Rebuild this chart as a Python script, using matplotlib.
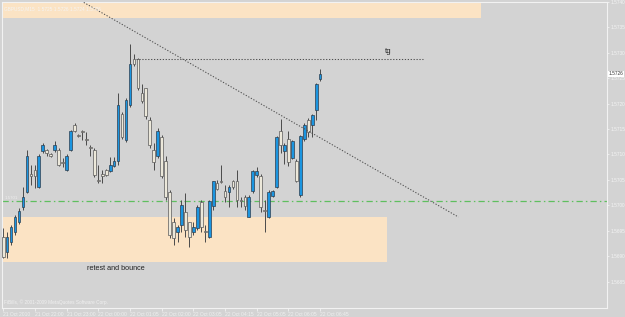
import matplotlib
matplotlib.use('Agg')
import matplotlib.pyplot as plt
from matplotlib.patches import Rectangle

# ---- OHLC data (M15 bars) ----
opens = [1.56937, 1.56908, 1.56928, 1.56947, 1.56967, 1.56996, 1.57026, 1.57061, 1.57069, 1.57037,
         1.57106, 1.57108, 1.57100, 1.57108, 1.57108, 1.57086, 1.57069, 1.57108, 1.57159, 1.57139,
         1.57147, 1.57131, 1.57114, 1.57108, 1.57049, 1.57061, 1.57069, 1.57067, 1.57077, 1.57088,
         1.57180, 1.57128, 1.57198, 1.57288, 1.57288, 1.57220, 1.57230, 1.57167, 1.57108, 1.57098,
         1.57135, 1.57088, 1.57026, 1.56967, 1.56947, 1.56961, 1.56986, 1.56967, 1.56947, 1.56955,
         1.57006, 1.56949, 1.56937, 1.56998, 1.57043, 1.57047, 1.57028, 1.57026, 1.57047, 1.57047,
         1.57010, 1.57016, 1.56977, 1.57028, 1.57059, 1.57057, 1.56990, 1.56977, 1.57018, 1.57037,
         1.57147, 1.57106, 1.57130, 1.57094, 1.57088, 1.57020, 1.57130, 1.57167, 1.57159, 1.57188,
         1.57249]
highs = [1.56955, 1.56947, 1.56961, 1.56981, 1.56994, 1.57037, 1.57108, 1.57079, 1.57079, 1.57100,
         1.57122, 1.57110, 1.57102, 1.57126, 1.57112, 1.57094, 1.57100, 1.57149, 1.57161, 1.57141,
         1.57149, 1.57145, 1.57118, 1.57112, 1.57079, 1.57069, 1.57071, 1.57096, 1.57096, 1.57220,
         1.57184, 1.57212, 1.57318, 1.57298, 1.57290, 1.57239, 1.57231, 1.57173, 1.57122, 1.57153,
         1.57139, 1.57098, 1.57030, 1.56975, 1.56961, 1.57010, 1.57024, 1.56967, 1.56967, 1.57000,
         1.57010, 1.56961, 1.57010, 1.57047, 1.57049, 1.57079, 1.57039, 1.57039, 1.57049, 1.57069,
         1.57016, 1.57020, 1.57020, 1.57069, 1.57075, 1.57061, 1.57010, 1.57030, 1.57031, 1.57137,
         1.57169, 1.57122, 1.57147, 1.57128, 1.57092, 1.57139, 1.57161, 1.57171, 1.57180, 1.57241,
         1.57269]
lows = [1.56896, 1.56896, 1.56922, 1.56941, 1.56963, 1.56990, 1.57024, 1.57039, 1.57035, 1.57035,
        1.57102, 1.57098, 1.57096, 1.57104, 1.57077, 1.57075, 1.57067, 1.57106, 1.57145, 1.57135,
        1.57128, 1.57118, 1.57098, 1.57055, 1.57043, 1.57043, 1.57057, 1.57065, 1.57075, 1.57079,
        1.57131, 1.57124, 1.57194, 1.57275, 1.57226, 1.57202, 1.57169, 1.57112, 1.57069, 1.57094,
        1.57053, 1.57010, 1.56935, 1.56922, 1.56928, 1.56947, 1.56937, 1.56918, 1.56941, 1.56951,
        1.56947, 1.56928, 1.56935, 1.56990, 1.57030, 1.57043, 1.57006, 1.56996, 1.57033, 1.56996,
        1.56996, 1.56990, 1.56977, 1.57024, 1.57055, 1.56986, 1.56947, 1.56975, 1.57016, 1.57035,
        1.57102, 1.57082, 1.57077, 1.57092, 1.57045, 1.57016, 1.57126, 1.57135, 1.57135, 1.57167,
        1.57245]
closes = [1.56898, 1.56937, 1.56957, 1.56977, 1.56988, 1.57016, 1.57098, 1.57057, 1.57057, 1.57098,
          1.57118, 1.57102, 1.57098, 1.57118, 1.57079, 1.57084, 1.57098, 1.57147, 1.57147, 1.57137,
          1.57145, 1.57128, 1.57112, 1.57059, 1.57047, 1.57057, 1.57059, 1.57079, 1.57088, 1.57198,
          1.57135, 1.57208, 1.57279, 1.57279, 1.57230, 1.57206, 1.57175, 1.57118, 1.57086, 1.57147,
          1.57057, 1.57016, 1.56941, 1.56935, 1.56957, 1.57000, 1.56951, 1.56937, 1.56957, 1.56996,
          1.56957, 1.56947, 1.57008, 1.57047, 1.57033, 1.57045, 1.57016, 1.57037, 1.57037, 1.57010,
          1.57008, 1.56998, 1.57016, 1.57067, 1.57067, 1.56996, 1.56988, 1.57026, 1.57028, 1.57135,
          1.57118, 1.57118, 1.57086, 1.57126, 1.57047, 1.57137, 1.57159, 1.57145, 1.57177, 1.57239,
          1.57259]

# ---- axis labels ----
ytick_vals = [1.5685, 1.5690, 1.5695, 1.5700, 1.5705, 1.5710, 1.5715, 1.5720, 1.5725,
              1.5730, 1.5735, 1.5740]
ytick_labels = ['1.5685', '1.5690', '1.5695', '1.5700', '1.5705', '1.5710', '1.5715',
                '1.5720', '1.5725', '1.5730', '1.5735', '1.5740']
xtick_bars = [0, 8, 16, 24, 32, 40, 48, 56, 64, 72, 80]
xtick_labels = ['21 Oct 2010', '21 Oct 22:00', '21 Oct 23:00', '22 Oct 00:00', '22 Oct 01:05',
                '22 Oct 02:00', '22 Oct 03:05', '22 Oct 04:15', '22 Oct 05:05', '22 Oct 06:05',
                '22 Oct 06:45']

# ---- drawn objects ----
zone_upper = (1.57369, 1.57420, 120.7)     # low, high, end bar
zone_lower = (1.56889, 1.56977, 96.9)
trend_start = (19.7, 1.57402)
trend_end = (114.9, 1.56977)
target_price = 1.57288
target_span = (33.6, 106.0)
green_level = 1.57008
current_price = 1.57259

plt.rcParams['font.family'] = ['Liberation Sans', 'DejaVu Sans']

BG = '#d3d3d3'
fig = plt.figure(figsize=(6.25, 3.17), dpi=100, facecolor=BG)
ax = fig.add_axes([2 / 625, 9 / 317, 605 / 625, 306 / 317])
ax.set_facecolor(BG)

ax.set_xlim(-0.3, 152.4)
ax.set_ylim(1.56798, 1.57398)

# zones
ax.add_patch(Rectangle((-5, zone_upper[0]), zone_upper[2] + 5, zone_upper[1] - zone_upper[0],
                       facecolor='#fbe3c4', edgecolor='none', zorder=0.5))
ax.add_patch(Rectangle((-5, zone_lower[0]), zone_lower[2] + 5, zone_lower[1] - zone_lower[0],
                       facecolor='#fbe3c4', edgecolor='none', zorder=0.5))

# green level
ax.axhline(green_level, color='#5fbf5f', lw=0.9, ls=(0, (5, 2.5, 1.2, 2.5)), zorder=1)

# candles
xs = list(range(len(opens)))
ax.vlines(xs, lows, highs, color='#4a4a4a', lw=0.7, zorder=2)
for i in xs:
    o, c = opens[i], closes[i]
    bull = c > o
    h = abs(c - o)
    if h < 0.00001:
        h = 0.00001
    ax.bar(i, h, bottom=min(o, c), width=0.68,
           color='#1b95e0' if bull else '#ece8da',
           edgecolor='#2d3e4e' if bull else '#5a5a5a', lw=0.5, zorder=3)

# trend line and target
ax.plot([trend_start[0], trend_end[0]], [trend_start[1], trend_end[1]],
        color='#505050', lw=0.75, ls=(0, (1.2, 1.6)), zorder=4)
ax.plot(list(target_span), [target_price, target_price],
        color='#505050', lw=0.75, ls=(0, (1.2, 1.6)), zorder=4)

# texts
ax.text(97.2, 1.57302, 'tg', fontsize=5.5, color='#222222', ha='center', va='center', zorder=5)
ax.text(28.4, 1.56875, 'retest and bounce', fontsize=5.2, color='#222222',
        ha='center', va='center', zorder=5)
ax.text(0.004, 0.985, 'GBPUSD,M15  1.5725 1.5726 1.5724 1.5726', transform=ax.transAxes,
        fontsize=3.4, color='#f4f4f4', ha='left', va='top', zorder=5)
ax.text(0.004, 0.02, 'FiBills, \u00a9 2001-2009 MetaQuotes Software Corp.', transform=ax.transAxes,
        fontsize=3.4, color='#f0f0f0', ha='left', va='center', zorder=5)
ax.text(0.004, green_level + 0.00006, '1.5701', transform=ax.get_yaxis_transform(),
        fontsize=3.2, color='#eeeeee', ha='left', va='center', zorder=5)

# axes styling
for s in ax.spines.values():
    s.set_color('#f2f2f2')
    s.set_linewidth(0.8)
ax.yaxis.tick_right()
ax.set_yticks(ytick_vals)
ax.set_yticklabels(ytick_labels)
ax.tick_params(axis='y', length=1.5, width=0.6, color='#f2f2f2', labelcolor='#f4f4f4',
               labelsize=3.4, pad=1.0)
ax.set_xticks(xtick_bars)
ax.set_xticklabels(xtick_labels)
ax.tick_params(axis='x', length=2, width=0.6, color='#f2f2f2', labelcolor='#f0f0f0',
               labelsize=3.6, pad=0.8)
for lbl in ax.get_xticklabels():
    lbl.set_ha('left')

# current price box
ax.text(1.003, current_price, '1.5726', transform=ax.get_yaxis_transform(),
        fontsize=3.4, color='#333333', ha='left', va='center', zorder=6,
        bbox=dict(boxstyle='square,pad=0.12', facecolor='#ffffff', edgecolor='none'),
        clip_on=False)

fig.savefig('out.png', dpi=100, facecolor=BG)
